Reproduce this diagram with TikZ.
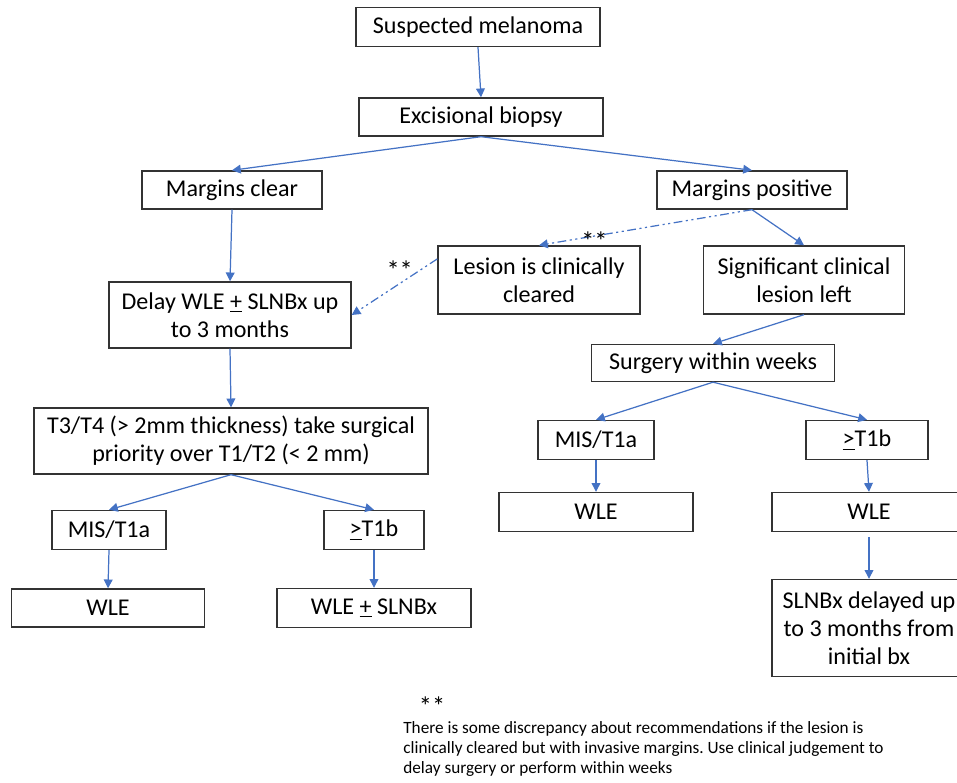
\documentclass[tikz,border=0pt]{standalone}
\usepackage{fontspec}
\setmainfont{Carlito}
\usetikzlibrary{arrows.meta}
\definecolor{flowblue}{HTML}{4472C4}
\frenchspacing
\tikzset{
	box/.style={draw=black!80, line width=0.8pt, align=center, inner sep=2pt, font=\fontsize{13.7}{16}\selectfont},
	arr/.style={draw=flowblue, line width=0.7pt, -{Triangle[length=5pt,width=5pt]}},
	dashdot/.style={arr, dash pattern=on 5pt off 2pt on 1.2pt off 2pt on 1.2pt off 2pt},
	stars/.style={font=\fontsize{15}{15}\selectfont, inner sep=1pt}
}
\begin{document}
\begin{tikzpicture}[x=0.02cm, y=-0.02cm]
			\useasboundingbox (0,0) rectangle (957,783);
			\node[box, minimum width=4.88cm, minimum height=0.78cm] (susp) at (478,27) {Suspected melanoma};
			\node[box, minimum width=4.88cm, minimum height=0.76cm] (exc) at (481,117) {Excisional biopsy};
			\node[box, minimum width=3.6cm, minimum height=0.76cm] (mclear) at (232,190) {Margins clear};
			\node[box, minimum width=3.8cm, minimum height=0.76cm] (mpos) at (752,190) {Margins positive};
			\node[box, minimum width=4.04cm, minimum height=1.36cm] (les) at (539,280) {Lesion is clinically\\cleared};
			\node[box, minimum width=4.02cm, minimum height=1.36cm] (sig) at (804,280) {Significant clinical\\lesion left};
			\node[box, minimum width=4.84cm, minimum height=1.32cm] (delay) at (230,315) {Delay WLE \underline{+} SLNBx up\\to 3 months};
			\node[box, minimum width=4.86cm, minimum height=0.74cm] (surg) at (713,363) {Surgery within weeks};
			\node[box, minimum width=7.88cm, minimum height=1.32cm] (t34) at (231,441) {T3/T4 (> 2mm thickness) take surgical\\priority over T1/T2 (< 2 mm)};
			\node[box, minimum width=2.28cm, minimum height=0.78cm] (misl) at (109,530) {MIS/T1a};
			\node[box, minimum width=2.0cm, minimum height=0.78cm] (tbl) at (374,530) {\underline{>}T1b};
			\node[box, minimum width=3.86cm, minimum height=0.76cm] (wlel) at (108,608) {WLE};
			\node[box, minimum width=3.88cm, minimum height=0.78cm] (wlesl) at (374,608) {WLE \underline{+} SLNBx};
			\node[box, minimum width=2.32cm, minimum height=0.78cm] (misr) at (596,440) {MIS/T1a};
			\node[box, minimum width=2.44cm, minimum height=0.78cm] (tbr) at (867,440) {\underline{>}T1b};
			\node[box, minimum width=3.88cm, minimum height=0.78cm] (wlem) at (596,512) {WLE};
			\node[box, minimum width=3.88cm, minimum height=0.78cm] (wler) at (869,512) {WLE};
			\node[box, minimum width=3.88cm, minimum height=1.94cm] (slnb) at (869,628) {SLNBx delayed up\\to 3 months from\\initial bx};
			\draw[arr] (susp.south) -- (exc.north);
			\draw[arr] (exc.south) -- (mclear.north);
			\draw[arr] (exc.south) -- (mpos.north);
			\draw[arr] (mclear.south) -- (delay.north);
			\draw[arr] (mpos.south) -- (sig.north);
			\draw[dashdot] (mpos.south) -- (les.north) node[stars, pos=.74, yshift=-3pt]{**};
			\draw[dashdot] ([yshift=12pt]les.west) -- (delay.east) node[stars, pos=.44, above=1pt]{**};
			\draw[arr] (delay.south) -- (t34.north);
			\draw[arr] (sig.south) -- (surg.north);
			\draw[arr] (t34.south) -- (misl.north);
			\draw[arr] (t34.south) -- (tbl.north);
			\draw[arr] (misl.south) -- (wlel.north);
			\draw[arr] (tbl.south) -- (wlesl.north);
			\draw[arr] (surg.south) -- (misr.north);
			\draw[arr] (surg.south) -- (tbr.north);
			\draw[arr] (misr.south) -- (wlem.north);
			\draw[arr] (tbr.south) -- (wler.north);
			\draw[arr, shorten <=3pt] (wler.south) -- (slnb.north);
			\node[stars] (fnstars) at (432,706) {**};
			\node[anchor=north west, align=left, inner sep=0pt, font=\fontsize{9.8}{11.3}\selectfont] (fnote) at (403,721) {There is some discrepancy about recommendations if the lesion is\\clinically cleared but with invasive margins. Use clinical judgement to\\delay surgery or perform within weeks};
		\end{tikzpicture}
\end{document}
